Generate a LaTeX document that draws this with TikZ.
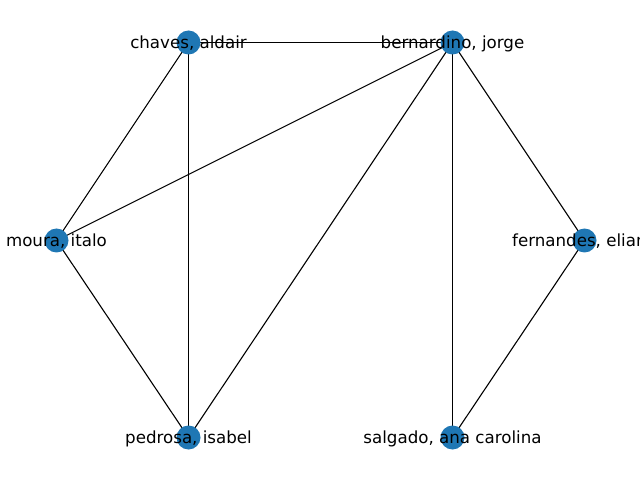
\documentclass[tikz,border=0pt]{standalone}
\usepackage{fontspec}
\setmainfont{DejaVu Sans}
\begin{document}
\begin{tikzpicture}[x=1pt,y=1pt,
  vert/.style={circle,fill={rgb,255:red,31;green,119;blue,180},minimum size=24pt,inner sep=0pt},
  lbl/.style={font=\fontsize{16.67}{20}\selectfont,inner sep=0pt,text=black,yshift=-1pt},
  edge/.style={line width=1.1pt,black}]
\useasboundingbox (0,0) rectangle (640,480);
\clip (0,0) rectangle (640,480);
\coordinate (pc) at (188.5,437.5);
\coordinate (pb) at (452.5,437.5);
\coordinate (pm) at (56.5,239.5);
\coordinate (pf) at (584.5,239.5);
\coordinate (pp) at (188.5,42.5);
\coordinate (ps) at (452.5,42.5);
\draw[edge] (pc) -- (pb);
\draw[edge] (pc) -- (pm);
\draw[edge] (pc) -- (pp);
\draw[edge] (pb) -- (pm);
\draw[edge] (pb) -- (pp);
\draw[edge] (pb) -- (ps);
\draw[edge] (pb) -- (pf);
\draw[edge] (pf) -- (ps);
\draw[edge] (pm) -- (pp);
\node[vert] (c) at (pc) {};
\node[vert] (b) at (pb) {};
\node[vert] (m) at (pm) {};
\node[vert] (f) at (pf) {};
\node[vert] (p) at (pp) {};
\node[vert] (s) at (ps) {};
\node[lbl] (lc) at (pc) {chaves, aldair};
\node[lbl] (lb) at (pb) {bernardino, jorge};
\node[lbl] (lm) at (pm) {moura, italo};
\node[lbl] (lf) at (pf) {fernandes, eliana};
\node[lbl] (lp) at (pp) {pedrosa, isabel};
\node[lbl] (ls) at (ps) {salgado, ana carolina};
\end{tikzpicture}
\end{document}
